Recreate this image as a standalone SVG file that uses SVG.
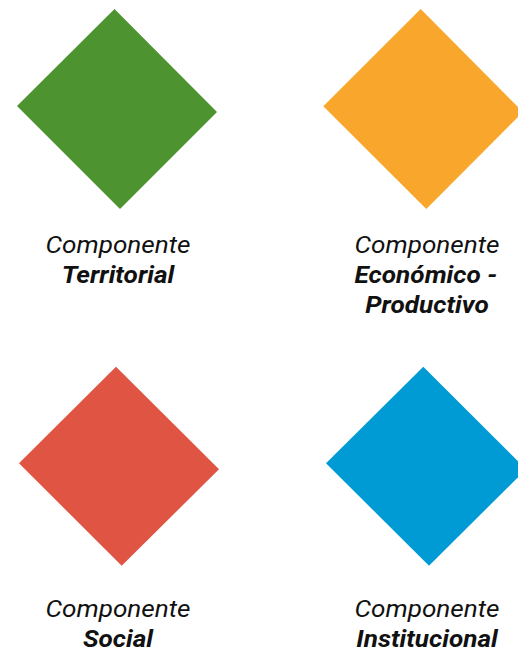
<svg xmlns="http://www.w3.org/2000/svg" width="518" height="653" viewBox="0 0 518 653">
<style>
.t{font-family:Roboto,"Liberation Sans",sans-serif;font-size:24px;font-style:italic;fill:#111;text-anchor:middle}
.b{font-weight:bold}
</style>
<rect width="518" height="653" fill="#fff"/>
<g id="territorial">
<polygon points="114.5,9 217,112 120,209 17,106" fill="#4D9431"/>
<g transform="translate(118,0) scale(1.09,1)">
<text class="t" x="0" y="253">Componente</text>
<text class="t b" x="0" y="283">Territorial</text>
</g>
</g>
<g id="economico">
<polygon points="420.7,9 523,112 426.3,209 323.3,106.3" fill="#F8A72C"/>
<g transform="translate(427,0) scale(1.09,1)">
<text class="t" x="0" y="253">Componente</text>
<text class="t b" x="-1" y="283">Económico -</text>
<text class="t b" x="0" y="313">Productivo</text>
</g>
</g>
<g id="social">
<polygon points="116,366.7 219,469.3 121.7,565.7 19,463.3" fill="#E05444"/>
<g transform="translate(118,0) scale(1.09,1)">
<text class="t" x="0" y="617">Componente</text>
<text class="t b" x="0" y="647">Social</text>
</g>
</g>
<g id="institucional">
<polygon points="423.3,366.7 526,469.3 429,565.7 326,463.3" fill="#009BD4"/>
<g transform="translate(427,0) scale(1.09,1)">
<text class="t" x="0" y="617">Componente</text>
<text class="t b" x="0" y="647">Institucional</text>
</g>
</g>
<g id="connectors"/>
</svg>
